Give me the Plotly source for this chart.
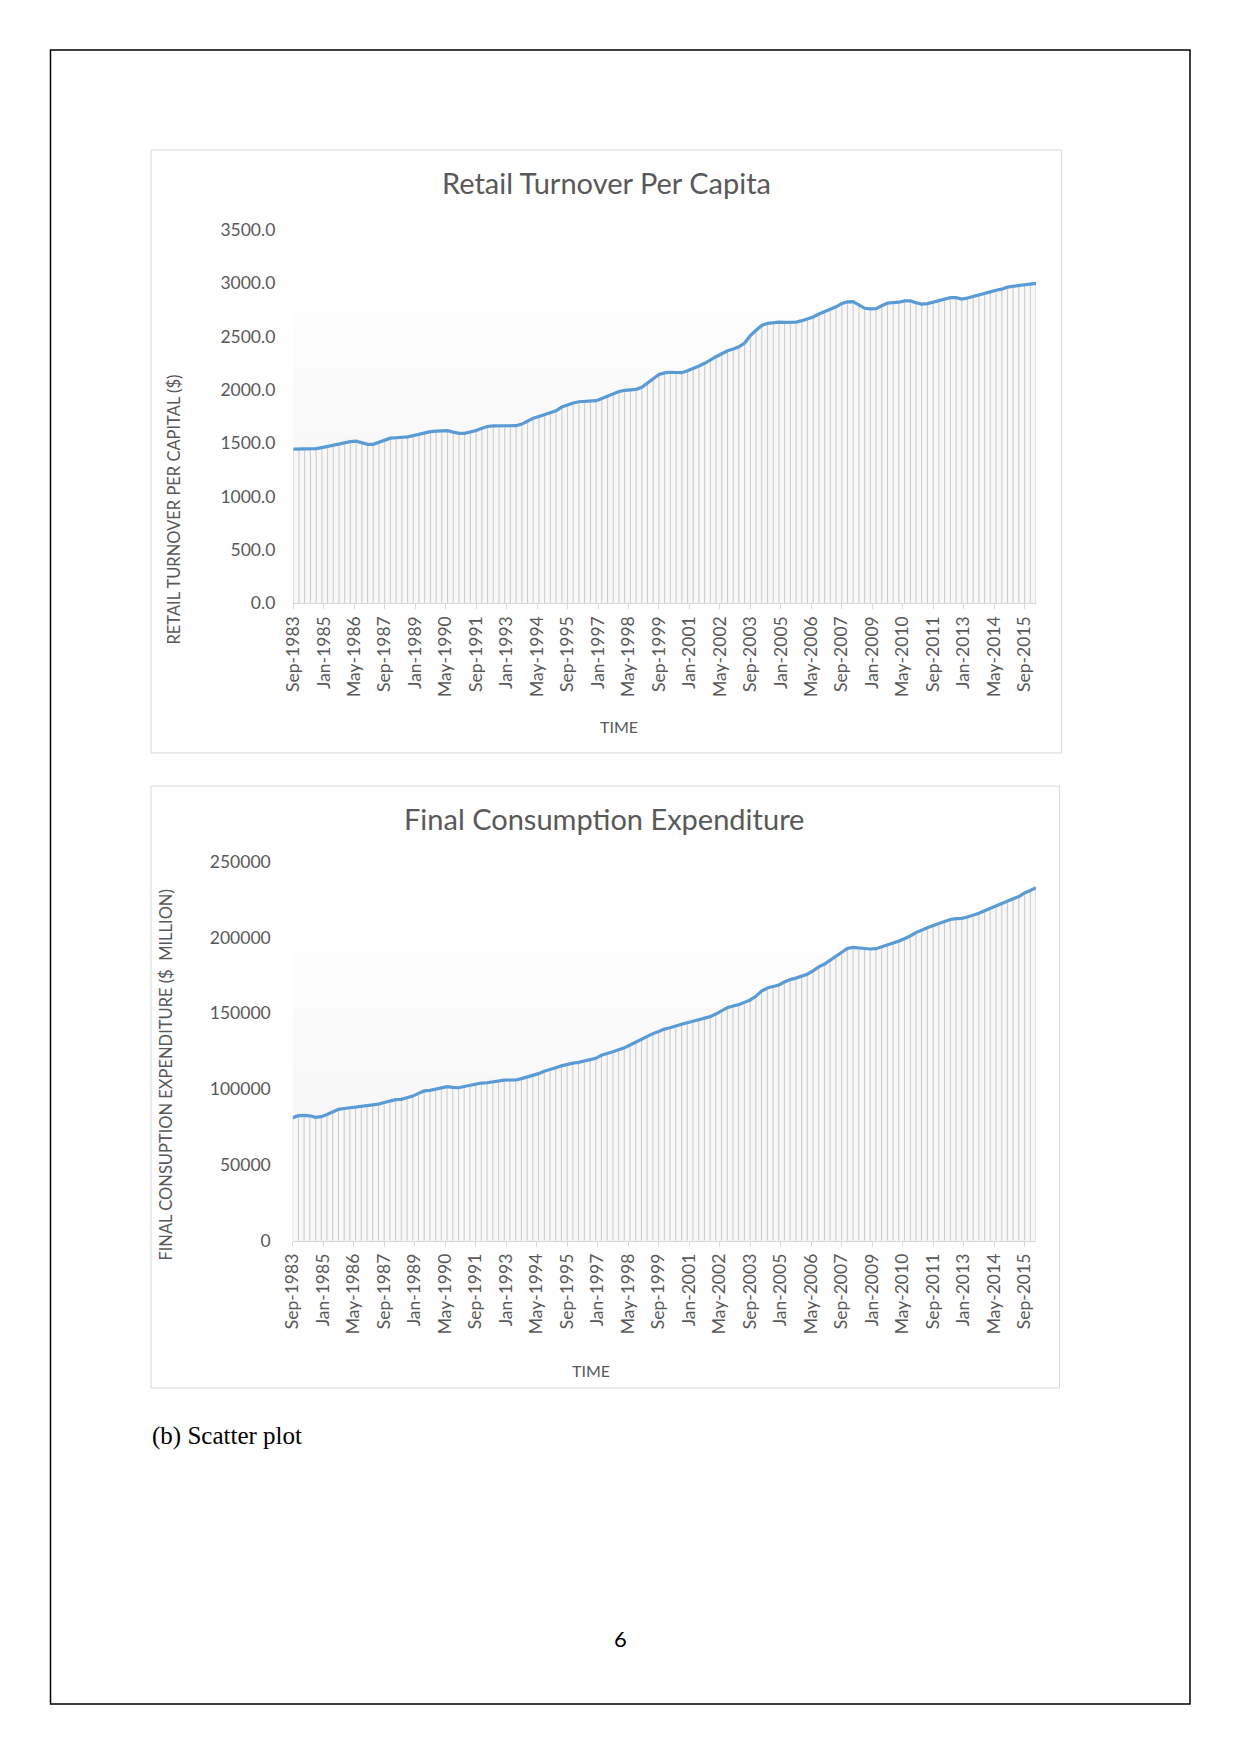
import pandas as pd
import plotly.graph_objects as go

W, H = 1241, 1754
BODY = 8  # the page body margin shifts the figure; compensate

# ---------------- data (quarterly, Sep-1983 .. Mar-2016) ----------------
START = "1983-09-01"
END = "2016-03-01"

RETAIL = [
    1446, 1446, 1446, 1447, 1450, 1460, 1470, 1485, 1498, 1508,
    1515, 1520, 1505, 1490, 1490, 1510, 1530, 1548, 1552, 1553,
    1560, 1572, 1585, 1598, 1609, 1615, 1618, 1618, 1605, 1594,
    1594, 1605, 1620, 1642, 1658, 1664, 1665, 1665, 1665, 1665,
    1680, 1705, 1735, 1752, 1768, 1782, 1805, 1840, 1862, 1878,
    1890, 1895, 1896, 1900, 1920, 1944, 1965, 1985, 1997, 2003,
    2006, 2025, 2065, 2100, 2145, 2160, 2166, 2164, 2162, 2180,
    2200, 2225, 2250, 2285, 2312, 2340, 2368, 2385, 2405, 2440,
    2510, 2560, 2605, 2625, 2634, 2636, 2634, 2634, 2636, 2650,
    2665, 2685, 2712, 2735, 2752, 2780, 2810, 2826, 2828, 2800,
    2766, 2760, 2762, 2790, 2815, 2820, 2823, 2836, 2835, 2818,
    2806, 2810, 2825, 2840, 2858, 2866, 2866, 2853, 2862, 2875,
    2888, 2900, 2920, 2935, 2945, 2965, 2972, 2978, 2988, 2995,
    3000,
]

FCE = [
    81100, 82500, 82700, 82400, 81400, 81800, 83200, 84800, 86600, 87200,
    87700, 88300, 88900, 89200, 89600, 90100, 91200, 92300, 93000, 93200,
    94200, 95400, 97200, 98800, 99200, 99900, 101000, 101600, 101100, 100900,
    101700, 102500, 103500, 104000, 104200, 104800, 105500, 105900, 106000, 106000,
    106900, 107900, 109200, 110200, 111800, 113200, 114100, 115300, 116300, 117100,
    117600, 118400, 119300, 120300, 122300, 123300, 124600, 126000, 127200, 129100,
    131000, 133100, 135000, 136600, 138000, 139600, 140500, 141800, 142800, 143800,
    144800, 145800, 147000, 147800, 149500, 151800, 153700, 154800, 155700, 157200,
    158800, 161200, 164600, 166700, 167600, 168700, 170600, 172200, 173200, 174600,
    175800, 178000, 180600, 182500, 185000, 187900, 190600, 192800, 193500, 193100,
    192600, 192400, 192600, 194000, 195500, 196400, 197600, 199200, 201000, 203200,
    205000, 206400, 207900, 209300, 210800, 211900, 212400, 212600, 213500, 214600,
    216000, 217700, 219300, 221000, 222800, 224300, 225600, 227000, 229400, 231000,
    232800,
]

TICK_LABELS = [
    "Sep-1983", "Jan-1985", "May-1986", "Sep-1987", "Jan-1989", "May-1990",
    "Sep-1991", "Jan-1993", "May-1994", "Sep-1995", "Jan-1997", "May-1998",
    "Sep-1999", "Jan-2001", "May-2002", "Sep-2003", "Jan-2005", "May-2006",
    "Sep-2007", "Jan-2009", "May-2010", "Sep-2011", "Jan-2013", "May-2014",
    "Sep-2015",
]
Y1_TICKS = [0, 500, 1000, 1500, 2000, 2500, 3000, 3500]
Y1_LABELS = ["0.0", "500.0", "1000.0", "1500.0", "2000.0", "2500.0", "3000.0", "3500.0"]
Y2_TICKS = [0, 50000, 100000, 150000, 200000, 250000]
Y2_LABELS = ["0", "50000", "100000", "150000", "200000", "250000"]

TITLE1 = "Retail Turnover Per Capita"
TITLE2 = "Final Consumption Expenditure"
YTITLE1 = "RETAIL TURNOVER PER CAPITAL ($)"
YTITLE2 = "FINAL CONSUPTION EXPENDITURE ($  MILLION)"
XTITLE = "TIME"
CAPTION = "(b) Scatter plot"
PAGE_NO = "6"

# ---------------- helpers ----------------
dates = pd.date_range(START, periods=len(RETAIL), freq="3MS")
tick_dates = pd.to_datetime(TICK_LABELS, format="%b-%Y")


def fx(p):
    return (p - BODY) / W


def fy(p):
    return 1 - (p - BODY) / H


LINE_BLUE = "#5b9bd5"
DROP = "#cdcdcd"
TXT = "#595959"
FONT = "Lato"

fig = go.Figure()


def add_series(vals, xa, ya):
    fig.add_trace(go.Scatter(
        x=dates, y=vals, mode="lines", fill="tozeroy",
        fillcolor="rgba(248,248,248,1)", line=dict(width=0),
        xaxis=xa, yaxis=ya, hoverinfo="skip", showlegend=False))
    dx, dy = [], []
    for d, v in zip(dates, vals):
        dx += [d, d, None]
        dy += [0, v, None]
    fig.add_trace(go.Scatter(
        x=dx, y=dy, mode="lines", line=dict(color=DROP, width=1.1),
        xaxis=xa, yaxis=ya, hoverinfo="skip", showlegend=False))
    fig.add_trace(go.Scatter(
        x=dates, y=vals, mode="lines", line=dict(color=LINE_BLUE, width=3.2),
        xaxis=xa, yaxis=ya, showlegend=False))


add_series(RETAIL, "x", "y")
add_series(FCE, "x2", "y2")

# plot-area pixel geometry
P1 = dict(l=293.3, r=1036, t=230, b=603.3)
P2 = dict(l=292.7, r=1036, t=861.7, b=1240.7)

xcommon = dict(
    type="date", range=[START, END], tickmode="array",
    tickvals=tick_dates, ticktext=TICK_LABELS, tickangle=-90,
    ticks="outside", ticklen=5, tickcolor="#d9d9d9", tickwidth=1,
    showline=True, linecolor="#d9d9d9", linewidth=1,
    showgrid=False, zeroline=False, automargin=False,
    tickfont=dict(family=FONT, size=17.5, color=TXT),
    ticklabelstandoff=0,
)
ycommon = dict(
    showgrid=False, zeroline=False, showline=False, ticks="", automargin=False,
    tickmode="array", tickfont=dict(family=FONT, size=17.5, color=TXT),
)

layout = dict(
    template="none",
    width=W, height=H, margin=dict(l=0, r=0, t=0, b=0, pad=0, autoexpand=False),
    paper_bgcolor="white", plot_bgcolor="rgba(0,0,0,0)",
    showlegend=False,
    xaxis=dict(domain=[fx(P1["l"]), fx(P1["r"])], anchor="y", **xcommon),
    yaxis=dict(domain=[fy(P1["b"]), fy(P1["t"])], anchor="x", range=[0, 3500],
               tickvals=Y1_TICKS, ticktext=Y1_LABELS, ticklabelstandoff=17, **ycommon),
    xaxis2=dict(domain=[fx(P2["l"]), fx(P2["r"])], anchor="y2", **xcommon),
    yaxis2=dict(domain=[fy(P2["b"]), fy(P2["t"])], anchor="x2", range=[0, 250000],
                tickvals=Y2_TICKS, ticktext=Y2_LABELS, ticklabelstandoff=21, **ycommon),
)
fig.update_layout(**layout)

shapes = []
# page border
shapes.append(dict(type="rect", xref="paper", yref="paper",
                   x0=fx(50.5), x1=fx(1190), y0=fy(1704), y1=fy(50),
                   line=dict(color="black", width=1.5), fillcolor="rgba(0,0,0,0)"))
# chart boxes
for (l, t, r, b) in [(151, 150, 1061.5, 753), (151, 786, 1059.5, 1388)]:
    shapes.append(dict(type="rect", xref="paper", yref="paper",
                       x0=fx(l), x1=fx(r), y0=fy(b), y1=fy(t),
                       line=dict(color="#d9d9d9", width=1), fillcolor="white",
                       layer="below"))
# soft gradient in plot areas
NB = 24
for P, off in [(P1, 40), (P2, 48)]:
    top = P["t"] + off
    for i in range(NB):
        y0 = top + (P["b"] - top) * i / NB
        y1 = top + (P["b"] - top) * (i + 1) / NB
        c = int(round(255 - 12 * (i + 1) / NB))
        shapes.append(dict(type="rect", xref="paper", yref="paper",
                           x0=fx(P["l"]), x1=fx(P["r"]), y0=fy(y1), y1=fy(y0),
                           line=dict(width=0), fillcolor=f"rgb({c},{c},{c})",
                           layer="below"))
fig.update_layout(shapes=shapes)

ann = []


def text(t, x, y, size, color=TXT, family=FONT, angle=0, xanchor="center"):
    ann.append(dict(text=t, x=fx(x), y=fy(y), xref="paper", yref="paper",
                    showarrow=False, textangle=angle, xanchor=xanchor, yanchor="middle",
                    font=dict(family=family, size=size, color=color)))


text(TITLE1, 606.5, 182.5, 29)
text(TITLE2, 603.7, 819, 29)
text(YTITLE1, 173.5, 510, 16.5, angle=-90)
text(YTITLE2, 165.6, 1075, 16.5, angle=-90)
text(XTITLE, 619, 726, 16)
text(XTITLE, 591, 1370, 16)
text(CAPTION, 150, 1436, 25, color="black", family="Liberation Serif", xanchor="left")
text(PAGE_NO, 620, 1638, 22, color="black", family=FONT)
fig.update_layout(annotations=ann)

fig.write_html("out.html")
